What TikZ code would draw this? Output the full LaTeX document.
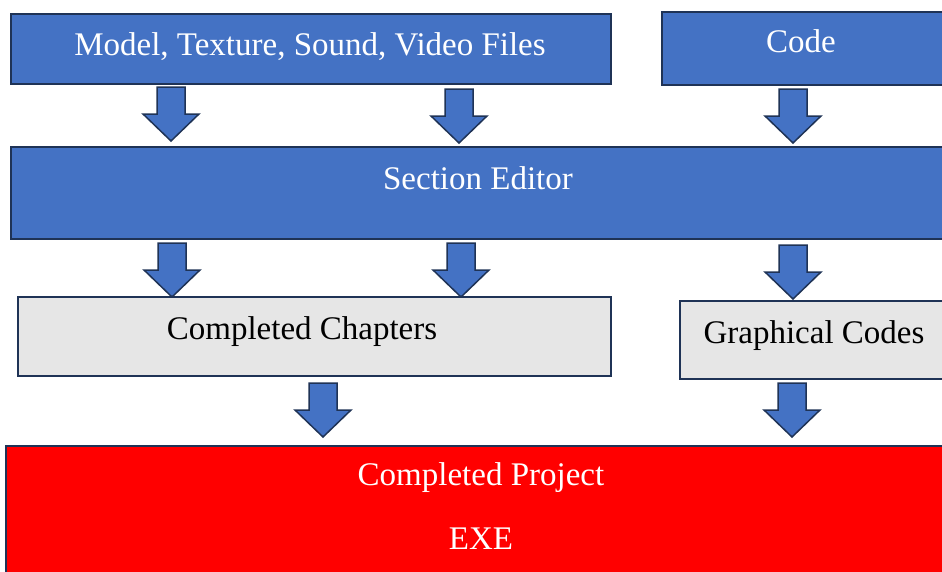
\documentclass[tikz,border=0pt]{standalone}
\usepackage{fontspec}
\setmainfont{Liberation Serif}
\definecolor{boxblue}{HTML}{4472C4}
\definecolor{boxline}{HTML}{1F3356}
\definecolor{boxgrey}{HTML}{E6E6E6}
\definecolor{boxred}{HTML}{FF0000}

\begin{document}
\begin{tikzpicture}[x=1pt, y=-1pt,
  every node/.style={font=\fontsize{33}{40}\selectfont, inner sep=0pt},
  bluebox/.style={draw=boxline, line width=1.8pt, fill=boxblue, anchor=north west},
  greybox/.style={draw=boxline, line width=1.8pt, fill=boxgrey, anchor=north west},
  redbox/.style={draw=boxline, line width=1.8pt, fill=boxred, anchor=north west},
  lighttext/.style={text=white, anchor=base},
  darktext/.style={text=black, anchor=base},
  downarrow/.pic={\draw[draw=boxline, line width=1.5pt, fill=boxblue]
    (-14,0) -- (14,0) -- (14,27) -- (28,27) -- (0,54) -- (-28,27) -- (-14,27) -- cycle;}]

  \useasboundingbox (0,0) rectangle (942,571);

  % Top row: source boxes
  \node[bluebox, minimum width=600, minimum height=70] (files) at (10,13) {};
  \node[lighttext] (filestext) at (310,55) {Model, Texture, Sound, Video Files};

  \node[bluebox, minimum width=285, minimum height=73] (code) at (661,11) {};
  \node[lighttext] (codetext) at (801,52) {Code};

  % Arrows into the editor
  \pic at (171,87) {downarrow};
  \pic at (459,89) {downarrow};
  \pic at (793,89) {downarrow};

  % Middle: the editor, running past the right edge
  \node[bluebox, minimum width=940, minimum height=92] (editor) at (10,146) {};
  \node[lighttext] (editortext) at (478,189) {Section Editor};

  % Arrows out of the editor
  \pic at (172,243) {downarrow};
  \pic at (461,243) {downarrow};
  \pic at (793,245) {downarrow};

  % Results of the editor
  \node[greybox, minimum width=593, minimum height=79] (chapters) at (17,296) {};
  \node[darktext] (chapterstext) at (302,339) {Completed Chapters};

  \node[greybox, minimum width=270, minimum height=78] (graphics) at (679,300) {};
  \node[darktext] (graphicstext) at (814,343) {Graphical Codes};

  % Arrows into the project
  \pic at (323,383) {downarrow};
  \pic at (792,383) {downarrow};

  % Bottom: the finished project
  \node[redbox, minimum width=945, minimum height=160] (project) at (5,445) {};
  \node[lighttext] (projecttext) at (481,485) {Completed Project};
  \node[lighttext] (exetext) at (481,549) {EXE};

\end{tikzpicture}
\end{document}
